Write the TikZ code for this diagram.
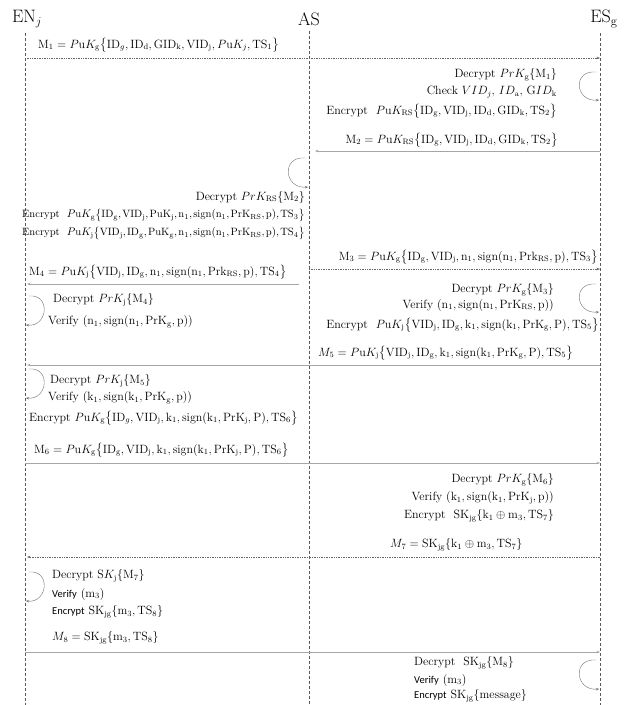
\documentclass[tikz,border=0pt]{standalone}
\usepackage{amsmath,amssymb}
\usepackage{fontspec}
\newfontfamily\calfont{Carlito}
\usepackage{tikz}
\usetikzlibrary{arrows.meta,positioning}

\begin{document}
\begin{tikzpicture}[x=1pt,y=-1pt,font=\fontsize{12}{14}\selectfont,
  every node/.style={inner sep=0pt},
  actor/.style={font=\fontsize{18}{20}\selectfont},
  lifeline/.style={densely dashed,black!65,line width=0.5pt},
  msg/.style={-{Stealth[length=3.5pt,width=2.6pt]},black!35,line width=0.7pt},
  dotmsg/.style={msg,densely dotted,black!60},
  selfloop/.style={-{Stealth[length=3pt,width=2.4pt]},black!55,line width=0.4pt},
  narrow/.style={font={\fontsize{10.6}{13}\selectfont\thinmuskip=2mu\relax}}]
\useasboundingbox (0,0) rectangle (628,705);

% actors and lifelines
\node[actor] (ENj) at (27,19) {EN$_j$};
\node[actor] (AS) at (309,19) {AS};
\node[actor] (ESg) at (604,19) {ES$_{\mathrm{g}}$};
\coordinate (ENjbot) at (25,705);
\coordinate (ASbot) at (309,705);
\coordinate (ESgbot) at (600,705);
\draw[lifeline] (ENj.south -| ENjbot) ++(0,5) -- (ENjbot);
\draw[lifeline] (AS.south -| ASbot) ++(0,5) -- (ASbot);
\draw[lifeline] (ESg.south -| ESgbot) ++(0,5) -- (ESgbot);

% message ends on the lifelines
\foreach \n/\y in {1/58,2/151,3/269,4/284,5/365,6/463,7/557,8/652}
 {\coordinate (en\n) at (25,\y);
  \coordinate (as\n) at (309,\y);
  \coordinate (es\n) at (600,\y);}

% messages
\draw[dotmsg] (en1) -- (es1);
\draw[msg] (es2) -- ([xshift=6pt]as2);
\draw[dotmsg] (as3) -- (es3);
\draw[msg] ([xshift=-10pt]as4) -- ([xshift=2pt]en4);
\draw[msg] (es5) -- ([xshift=2pt]en5);
\draw[msg] (en6) -- (es6);
\draw[dotmsg] (es7) -- ([xshift=2pt]en7);
\draw[msg] (en8) -- (es8);

% self loops
\coordinate (l1a) at (596,72);  \coordinate (l1b) at (599,100);
\coordinate (l2a) at (305,158); \coordinate (l2b) at (308,187);
\coordinate (l3a) at (596,284); \coordinate (l3b) at (599,312);
\coordinate (l4a) at (29,296);  \coordinate (l4b) at (26,325);
\coordinate (l5a) at (29,369);  \coordinate (l5b) at (26,398);
\coordinate (l7a) at (29,572);  \coordinate (l7b) at (26,601);
\coordinate (l8a) at (596,660); \coordinate (l8b) at (599,689);
\foreach \l in {1,2,3,8}
 {\draw[selfloop] (l\l a) .. controls +(-24,-2) and +(-24,2) .. (l\l b);}
\foreach \l in {4,5,7}
 {\draw[selfloop] (l\l a) .. controls +(22,-2) and +(22,2) .. (l\l b);}

% labels
\node[anchor=west] (t1) at (38,45) {$\mathrm{M_1} = P\mathrm{u}K_{\mathrm{g}}\bigl\{\mathrm{ID}_{g}, \mathrm{ID_d}, \mathrm{GID_k}, \mathrm{VID_j}, P\mathrm{u}K_j, \mathrm{TS_1}\bigr\}$};
\node[anchor=east] (t2) at (557,75) {Decrypt $PrK_{\mathrm{g}}\{\mathrm{M_1}\}$};
\node[anchor=east] (t3) at (557,92) {Check $VID_j$, $ID_{\mathrm{a}}$, $\mathrm{G}ID_{\mathrm{k}}$};
\node[anchor=east] (t4) at (557,111) {Encrypt\ \ $P\mathrm{u}K_{\mathrm{RS}}\bigl\{\mathrm{ID_g}, \mathrm{VID_j}, \mathrm{ID_d}, \mathrm{GID_k}, \mathrm{TS_2}\bigr\}$};
\node[anchor=east] (t5) at (558,140) {$\mathrm{M_2} = P\mathrm{u}K_{\mathrm{RS}}\bigl\{\mathrm{ID_g}, \mathrm{VID_j}, \mathrm{ID_d}, \mathrm{GID_k}, \mathrm{TS_2}\bigr\}$};
\node[anchor=east] (t6) at (305,197) {Decrypt $PrK_{\mathrm{RS}}\{\mathrm{M_2}\}$};
\node[anchor=east,narrow] (t7) at (305,215) {Encrypt\ \ $P\mathrm{u}K_{\mathrm{g}}\bigl\{\mathrm{ID_g}, \mathrm{VID_j}, \mathrm{PuK_j}, \mathrm{n_1}, \mathrm{sign}(\mathrm{n_1}, \mathrm{PrK_{RS}}, \mathrm{p}), \mathrm{TS_3}\bigr\}$};
\node[anchor=east,narrow] (t8) at (305,233) {Encrypt\ \ $P\mathrm{u}K_{\mathrm{j}}\bigl\{\mathrm{VID_j}, \mathrm{ID_g}, \mathrm{PuK_g}, \mathrm{n_1}, \mathrm{sign}(\mathrm{n_1}, \mathrm{PrK_{RS}}, \mathrm{p}), \mathrm{TS_4}\bigr\}$};
\node[anchor=east] (t9) at (598,257) {$\mathrm{M_3} = P\mathrm{u}K_{\mathrm{g}}\bigl\{\mathrm{ID_g}, \mathrm{VID_j}, \mathrm{n_1}, \mathrm{sign}(\mathrm{n_1}, \mathrm{Prk_{RS}}, \mathrm{p}), \mathrm{TS_3}\bigr\}$};
\node[anchor=west] (t10) at (29,272) {$\mathrm{M_4} = P\mathrm{u}K_{\mathrm{j}}\bigl\{\mathrm{VID_j}, \mathrm{ID_g}, \mathrm{n_1}, \mathrm{sign}(\mathrm{n_1}, \mathrm{Prk_{RS}}, \mathrm{p}), \mathrm{TS_4}\bigr\}$};
\node[anchor=east] (t11) at (554,290) {Decrypt $PrK_{\mathrm{g}}\{\mathrm{M_3}\}$};
\node[anchor=east] (t12) at (554,305) {Verify $(\mathrm{n_1}, \mathrm{sign}(\mathrm{n_1}, \mathrm{PrK_{RS}}, \mathrm{p}))$};
\node[anchor=east] (t13) at (599,325) {Encrypt\ \ $P\mathrm{u}K_{\mathrm{j}}\bigl\{\mathrm{VID_j}, \mathrm{ID_g}, \mathrm{k_1}, \mathrm{sign}(\mathrm{k_1}, \mathrm{PrK_g}, \mathrm{P}), \mathrm{TS_5}\bigr\}$};
\node[anchor=west] (t14) at (53,300) {Decrypt $PrK_{\mathrm{j}}\{\mathrm{M_4}\}$};
\node[anchor=west] (t15) at (48,322) {Verify $(\mathrm{n_1}, \mathrm{sign}(\mathrm{n_1}, \mathrm{PrK_g}, \mathrm{p}))$};
\node[anchor=west] (t16) at (318,353) {$M_5 = P\mathrm{u}K_{\mathrm{j}}\bigl\{\mathrm{VID_j}, \mathrm{ID_g}, \mathrm{k_1}, \mathrm{sign}(\mathrm{k_1}, \mathrm{PrK_g}, \mathrm{P}), \mathrm{TS_5}\bigr\}$};
\node[anchor=west] (t17) at (50,381) {Decrypt $PrK_{\mathrm{j}}\{\mathrm{M_5}\}$};
\node[anchor=west] (t18) at (48,398) {Verify $(\mathrm{k_1}, \mathrm{sign}(\mathrm{k_1}, \mathrm{PrK_g}, \mathrm{p}))$};
\node[anchor=west] (t19) at (29,418) {Encrypt $P\mathrm{u}K_{\mathrm{g}}\bigl\{\mathrm{ID}_g, \mathrm{VID_j}, \mathrm{k_1}, \mathrm{sign}(\mathrm{k_1}, \mathrm{PrK_j}, \mathrm{P}), \mathrm{TS_6}\bigr\}$};
\node[anchor=west] (t20) at (34,450) {$\mathrm{M}_6 = P\mathrm{u}K_{\mathrm{g}}\bigl\{\mathrm{ID_g}, \mathrm{VID_j}, \mathrm{k_1}, \mathrm{sign}(\mathrm{k_1}, \mathrm{PrK_j}, \mathrm{P}), \mathrm{TS}_6\bigr\}$};
\node[anchor=east] (t21) at (554,480) {Decrypt $PrK_{\mathrm{g}}\{\mathrm{M_6}\}$};
\node[anchor=east] (t22) at (554,498) {Verify $(\mathrm{k_1}, \mathrm{sign}(\mathrm{k_1}, \mathrm{PrK_j}, \mathrm{p}))$};
\node[anchor=east] (t23) at (554,516) {Encrypt\ \ $\mathrm{SK_{jg}}\{\mathrm{k_1} \oplus \mathrm{m_3}, \mathrm{TS_7}\}$};
\node[anchor=west] (t24) at (390,545) {$M_7 = \mathrm{SK_{jg}}\{\mathrm{k_1} \oplus \mathrm{m_3}, \mathrm{TS_7}\}$};
\node[anchor=west] (t25) at (52,576) {Decrypt $\mathrm{S}K_{\mathrm{j}}\{\mathrm{M_7}\}$};
\node[anchor=west] (t26) at (52,594) {{\calfont\fontsize{10.5}{12}\selectfont Verify} $(\mathrm{m_3})$};
\node[anchor=west] (t27) at (52,612) {{\calfont\fontsize{10.5}{12}\selectfont Encrypt} $\mathrm{SK_{jg}}\{\mathrm{m_3}, \mathrm{TS_8}\}$};
\node[anchor=west] (t28) at (52,638) {$M_8 = \mathrm{SK_{jg}}\{\mathrm{m_3}, \mathrm{TS_8}\}$};
\node[anchor=west] (t29) at (414,663) {Decrypt\ \ $\mathrm{SK_{jg}}\{\mathrm{M_8}\}$};
\node[anchor=west] (t30) at (414,680) {{\calfont\fontsize{10.5}{12}\selectfont Verify} $(\mathrm{m_3})$};
\node[anchor=west] (t31) at (414,696) {{\calfont\fontsize{10.5}{12}\selectfont Encrypt} $\mathrm{SK_{jg}}\{\mathrm{message}\}$};
\end{tikzpicture}
\end{document}
